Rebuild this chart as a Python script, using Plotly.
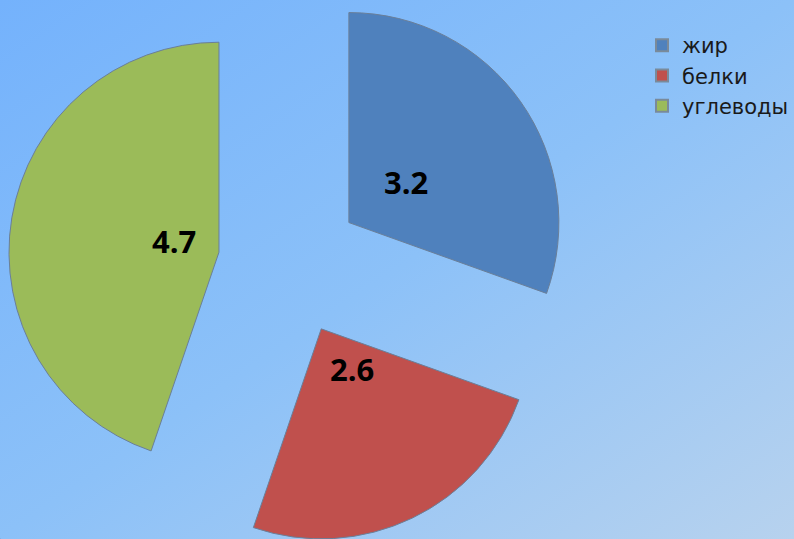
import math
import base64
import plotly.graph_objects as go

# ---- data ----
categories = ["жир", "белки", "углеводы"]
values = [3.2, 2.6, 4.7]
value_labels = ["3.2", "2.6", "4.7"]
colors = ["#4F81BD", "#C0504D", "#9BBB59"]

# ---- layout constants (styling / geometry, not data) ----
W, H = 794, 539
CX, CY = 290, 264      # centre of the (un-exploded) pie, px
R = 210                # pie radius, px
PULL = 72 / 210        # explode distance as fraction of radius
LABEL_FRAC = 0.335     # label distance from slice apex, fraction of radius

svg = f"""<svg xmlns='http://www.w3.org/2000/svg' width='{W}' height='{H}'>
<defs><linearGradient id='g' x1='0' y1='0' x2='1' y2='1'>
<stop offset='0' stop-color='#74b2fc'/>
<stop offset='0.5' stop-color='#8cc1f8'/>
<stop offset='1' stop-color='#b7d2ee'/>
</linearGradient></defs>
<rect width='{W}' height='{H}' fill='url(#g)'/></svg>"""
bg_uri = "data:image/svg+xml;base64," + base64.b64encode(svg.encode()).decode()

fig = go.Figure()

# legend carrier (all categories with their colours)
fig.add_trace(go.Pie(
    labels=categories, values=values, sort=False, direction="clockwise",
    marker=dict(colors=colors, line=dict(color="#7a8a9a", width=1)),
    textinfo="none", hoverinfo="skip", showlegend=True,
    domain=dict(x=[0, 0.0001], y=[0, 0.0001]),
))

total = sum(values)
cum = 0.0
annotations = []
for i, (cat, v, col) in enumerate(zip(categories, values, colors)):
    frac = v / total
    mid = (cum + frac / 2) * 2 * math.pi
    cum += frac
    ux, uy = math.sin(mid), -math.cos(mid)
    vx, vy = CX + PULL * R * ux, CY + PULL * R * uy
    x0, x1 = (vx - R) / W, (vx + R) / W
    y0, y1 = 1 - (vy + R) / H, 1 - (vy - R) / H
    x0, x1 = max(0, x0), min(1, x1)
    y0, y1 = max(0, y0), min(1, y1)
    fig.add_trace(go.Pie(
        labels=categories, values=values, sort=False, direction="clockwise",
        marker=dict(
            colors=[c if j == i else "rgba(0,0,0,0)" for j, c in enumerate(colors)],
            line=dict(color=["#6a7f99" if j == i else "rgba(0,0,0,0)" for j in range(len(values))],
                      width=[1 if j == i else 0 for j in range(len(values))]),
        ),
        textinfo="none",
        hoverinfo=["label+value" if j == i else "skip" for j in range(len(values))],
        showlegend=False,
        domain=dict(x=[x0, x1], y=[y0, y1]),
    ))
    lx = vx + LABEL_FRAC * R * ux
    ly = vy + LABEL_FRAC * R * uy
    annotations.append(dict(
        x=lx / W, y=1 - ly / H, xref="paper", yref="paper",
        text=value_labels[i], showarrow=False,
        font=dict(family="Open Sans", size=31, color="#000000", weight="bold"),
    ))

fig.update_layout(
    width=W, height=H,
    margin=dict(l=0, r=0, t=0, b=0),
    paper_bgcolor="#8cc1f8",
    images=[dict(source=bg_uri, xref="paper", yref="paper", x=0, y=1,
                 sizex=1, sizey=1, sizing="stretch", layer="below",
                 xanchor="left", yanchor="top")],
    annotations=annotations,
    legend=dict(
        x=642 / W, y=1 - 25 / H, xanchor="left", yanchor="top",
        bgcolor="rgba(0,0,0,0)",
        font=dict(family="DejaVu Sans", size=21, color="#1a1a1a"),
        itemsizing="constant",
    ),
)

fig.write_html("out.html", config={"displayModeBar": False},
               post_script="document.body.style.margin='0px';")
